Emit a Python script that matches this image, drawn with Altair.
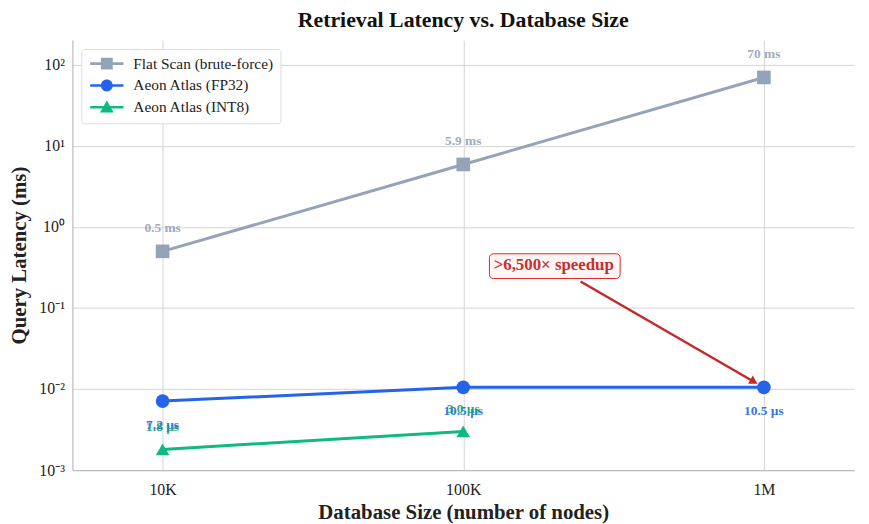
import altair as alt
import pandas as pd

# ---- data ----
sizes = [10000, 100000, 1000000]
series_names = ["Flat Scan (brute-force)", "Aeon Atlas (FP32)", "Aeon Atlas (INT8)"]
flat_ms = [0.5, 5.9, 70]
fp32_ms = [0.0071, 0.0105, 0.0105]
int8_ms = [0.0018, 0.0030]
flat_labels = ["0.5 ms", "5.9 ms", "70 ms"]
fp32_labels = ["7.2 µs", "10.5 µs", "10.5 µs"]
int8_labels = ["1.8 µs", "3.0 µs"]
colors = ["#94a3b8", "#2563eb", "#10b981"]
marker_shapes = ["square", "circle", "triangle-up"]
x_tick_values = [10000, 100000, 1000000]
y_tick_values = [0.001, 0.01, 0.1, 1, 10, 100]

# annotation (data coordinates)
ann_text = ">6,500× speedup"
ann_x, ann_y = 200000, 0.343
box_x, box_x2, box_y, box_y2 = 122200, 332600, 0.467, 0.231
arrow_x, arrow_y, arrow_x2, arrow_y2 = 245600, 0.212, 926800, 0.01232

rows = []
for s, vals, labs in [(series_names[0], flat_ms, flat_labels),
                      (series_names[1], fp32_ms, fp32_labels),
                      (series_names[2], int8_ms, int8_labels)]:
    for n, v, l in zip(sizes, vals, labs):
        rows.append({"series": s, "size": n, "latency": v, "label": l})
df = pd.DataFrame(rows)

FONT = "Liberation Serif"

xscale = alt.Scale(type="log", domain=[5012, 1995000], nice=False)
yscale = alt.Scale(type="log", domain=[0.001, 202], nice=False)
cscale = alt.Scale(domain=series_names, range=colors)

x_enc = alt.X("size:Q", scale=xscale,
              axis=alt.Axis(values=x_tick_values, title="Database Size (number of nodes)",
                            labelExpr="datum.value >= 999999 ? '1M' : datum.value >= 99999 ? '100K' : '10K'",
                            grid=True, ticks=False, labelPadding=12, titlePadding=4))
y_expr = ("round(log(datum.value)/LN10) == 2 ? '10²' : round(log(datum.value)/LN10) == 1 ? '10¹' : "
          "round(log(datum.value)/LN10) == 0 ? '10⁰' : round(log(datum.value)/LN10) == -1 ? '10⁻¹' : "
          "round(log(datum.value)/LN10) == -2 ? '10⁻²' : '10⁻³'")
y_enc = alt.Y("latency:Q", scale=yscale,
              axis=alt.Axis(values=y_tick_values, title="Query Latency (ms)", labelExpr=y_expr,
                            grid=True, ticks=False, labelPadding=8, titlePadding=10))

base = alt.Chart(df)

def line(i):
    return base.transform_filter(alt.datum.series == series_names[i]).mark_line(
        strokeWidth=3, color=colors[i]
    ).encode(x=x_enc, y=y_enc)

def pts(i):
    return base.transform_filter(alt.datum.series == series_names[i]).mark_point(
        filled=True, opacity=1, size=190, shape=marker_shapes[i], color=colors[i]
    ).encode(x="size:Q", y="latency:Q")

def labels(name, dy, color):
    return base.transform_filter(alt.datum.series == name).mark_text(
        dy=dy, font=FONT, fontSize=13.5, fontWeight="bold", color=color, opacity=0.9
    ).encode(x="size:Q", y="latency:Q", text="label:N")

lab_flat = labels(series_names[0], -24, colors[0])
lab_fp32 = labels(series_names[1], 24, colors[1])
lab_int8 = labels(series_names[2], -23, "#10a07a")

# legend-only layer (placed outside the domain and clipped)
leg_df = pd.DataFrame({"series": series_names, "size": [1, 1, 1], "latency": [1, 1, 1]})
line_h = "M-2.8,-0.22H2.8V0.22H-2.8Z "
leg_shapes = [
    line_h + "M-1,-1H1V1H-1Z",
    line_h + "M1,0A1,1 0 1,1 -1,0A1,1 0 1,1 1,0Z",
    line_h + "M0,-1.15L1.15,0.9L-1.15,0.9Z",
]
leg_props = dict(title=None, orient="top-left", offset=9,
                 fillColor="white", strokeColor="#dddddd", cornerRadius=3,
                 padding=7, labelFont=FONT, labelFontSize=15.5, labelColor="#222222",
                 symbolSize=144, symbolStrokeWidth=0, symbolOffset=11,
                 labelOffset=19, rowPadding=5)
legend_layer = alt.Chart(leg_df).mark_point(filled=True, clip=True, size=144, opacity=1).encode(
    x="size:Q", y="latency:Q",
    color=alt.Color("series:N", scale=cscale, legend=alt.Legend(**leg_props)),
    shape=alt.Shape("series:N", scale=alt.Scale(domain=series_names, range=leg_shapes),
                    legend=alt.Legend(**leg_props)),
)

ann_df = pd.DataFrame({"x": [box_x], "x2": [box_x2], "y": [box_y], "y2": [box_y2],
                       "ax": [arrow_x], "ay": [arrow_y], "ax2": [arrow_x2], "ay2": [arrow_y2],
                       "tx": [ann_x], "ty": [ann_y], "t": [ann_text]})
ann = alt.Chart(ann_df)
arrow_line = ann.mark_rule(color="#c62828", strokeWidth=2.5).encode(
    x="ax:Q", y="ay:Q", x2="ax2:Q", y2="ay2:Q")
arrow_head = ann.mark_point(shape="triangle-up", filled=True, color="#c62828", size=90,
                            angle=120, opacity=1).encode(x="ax2:Q", y="ay2:Q")
box = ann.mark_rect(fill="#fff5f5", stroke="#dc2626", strokeWidth=1, cornerRadius=4).encode(
    x="x:Q", x2="x2:Q", y="y:Q", y2="y2:Q")
ann_label = ann.mark_text(font=FONT, fontSize=17, fontWeight="bold", color="#c53030").encode(
    x="tx:Q", y="ty:Q", text="t:N")

chart = alt.layer(
    line(0), line(1), line(2), legend_layer, pts(0), pts(1), pts(2),
    lab_flat, lab_fp32, lab_int8, arrow_line, arrow_head, box, ann_label
).properties(
    width=789, height=434,
    title=alt.Title("Retrieval Latency vs. Database Size", font=FONT, fontSize=22,
                    fontWeight="bold", color="#111111", offset=8),
    autosize=alt.AutoSizeParams(type="none"),
    padding={"left": 65, "top": 30, "right": 7, "bottom": 52},
).configure_view(stroke=None).configure_axis(
    labelFont=FONT, labelFontSize=16, labelColor="#222222",
    titleFont=FONT, titleFontSize=21, titleFontWeight="bold", titleColor="#222222",
    gridColor="#d4d4d4", gridWidth=1, domainColor="#bbbbbb", domainWidth=1.2,
)

chart.save("out.html", embed_options={"renderer": "svg", "actions": False})
